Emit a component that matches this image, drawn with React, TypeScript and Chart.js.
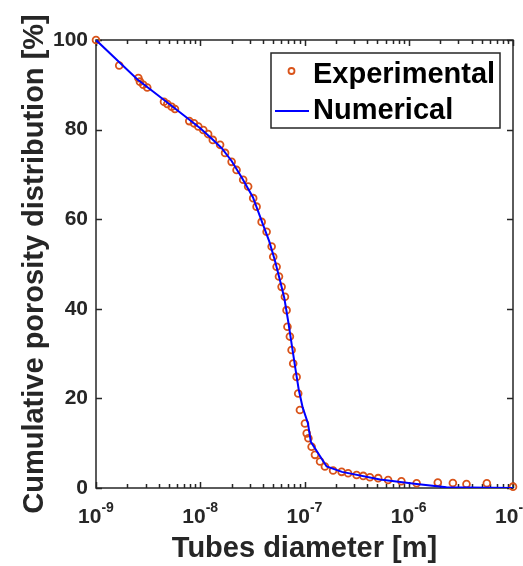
import React, { useEffect, useRef } from 'react';
import { Chart, registerables } from 'chart.js';

Chart.register(...registerables);

// ---- data ----
const expDiameter = [
  1.0e-9, 1.67e-9, 2.55e-9, 2.64e-9, 2.84e-9, 3.1e-9, 4.49e-9, 4.83e-9, 5.32e-9, 5.72e-9,
  7.85e-9, 8.71e-9, 9.58e-9, 1.07e-8, 1.19e-8, 1.32e-8, 1.55e-8, 1.73e-8, 2.0e-8, 2.23e-8,
  2.58e-8, 2.88e-8, 3.22e-8, 3.47e-8, 3.88e-8, 4.33e-8, 4.84e-8, 5.01e-8, 5.4e-8, 5.69e-8,
  6.03e-8, 6.49e-8, 6.73e-8, 6.86e-8, 7.24e-8, 7.52e-8, 7.79e-8, 8.4e-8, 8.7e-8, 9.04e-8,
  1.01e-7, 1.05e-7, 1.09e-7, 1.17e-7, 1.26e-7, 1.41e-7, 1.57e-7, 1.88e-7, 2.27e-7, 2.62e-7,
  3.16e-7, 3.66e-7, 4.24e-7, 5.09e-7, 6.34e-7, 8.5e-7, 1.19e-6, 1.9e-6, 2.65e-6, 3.58e-6,
  5.61e-6, 1.0e-5,
];
const expPorosity = [
  100, 94.3, 91.5, 90.7, 90.0, 89.4, 86.2, 85.7, 85.1, 84.6,
  81.9, 81.4, 80.7, 79.9, 79.0, 77.7, 76.6, 74.8, 72.8, 71.0,
  68.8, 67.3, 64.7, 62.8, 59.4, 57.2, 53.9, 51.6, 49.4, 47.2,
  44.9, 42.7, 39.7, 36.0, 33.8, 30.8, 27.8, 24.8, 21.1, 17.4,
  14.4, 12.2, 11.1, 9.2, 7.4, 5.9, 4.8, 3.9, 3.6, 3.3,
  2.9, 2.7, 2.4, 2.2, 1.8, 1.5, 1.05, 1.2, 1.1, 0.9,
  1.05, 0.3,
];
const numDiameter = [
  1e-9, 2.5e-9, 4.5e-9, 7.5e-9, 1e-8, 1.3e-8, 1.6e-8, 2.0e-8, 2.5e-8, 3.2e-8,
  4.0e-8, 4.6e-8, 5.2e-8, 5.8e-8, 6.4e-8, 7.0e-8, 7.6e-8, 8.2e-8, 8.8e-8, 9.6e-8,
  1.08e-7, 1.15e-7, 1.63e-7, 2.29e-7, 5.3e-7, 1.19e-6, 2.3e-6, 1e-5,
];
const numPorosity = [
  100, 91.2, 86.6, 82.6, 80.3, 77.9, 75.9, 73.0, 69.3, 64.9,
  58.8, 55.0, 50.8, 46.5, 42.4, 37.0, 31.5, 26.5, 22.0, 18.0,
  14.4, 10.3, 4.8, 3.6, 1.9, 0.9, 0.15, 0,
];
const xTickExponents = [-9, -8, -7, -6, -5];
const yTickValues = [0, 20, 40, 60, 80, 100];
const seriesNames = ['Experimental', 'Numerical'];

const FONT = "'Liberation Sans', Arial, Helvetica, sans-serif";
const AXIS = '#262626';
const ORANGE = '#D95319';
const BLUE = '#0000FF';

const framePlugin = {
  id: 'frame',
  beforeDatasetsDraw(chart: any) {
    const { ctx, chartArea: a, scales } = chart;
    const x = scales.x;
    const y = scales.y;
    ctx.save();
    ctx.strokeStyle = AXIS;
    ctx.lineWidth = 1.5;
    ctx.beginPath();
    const minE = xTickExponents[0];
    const maxE = xTickExponents[xTickExponents.length - 1];
    for (let e = minE; e <= maxE; e++) {
      for (let m = 1; m <= 9; m++) {
        const v = m * Math.pow(10, e);
        if (v > Math.pow(10, maxE) * 1.0001) break;
        const px = Math.round(x.getPixelForValue(v)) + 0.5;
        const len = m === 1 ? 6 : 4;
        ctx.moveTo(px, a.bottom);
        ctx.lineTo(px, a.bottom - len);
        ctx.moveTo(px, a.top);
        ctx.lineTo(px, a.top + len);
      }
    }
    for (const v of yTickValues) {
      const py = Math.round(y.getPixelForValue(v)) + 0.5;
      ctx.moveTo(a.left, py);
      ctx.lineTo(a.left + 6, py);
      ctx.moveTo(a.right, py);
      ctx.lineTo(a.right - 6, py);
    }
    ctx.stroke();
    ctx.strokeRect(a.left, a.top, a.right - a.left, a.bottom - a.top);

    // x tick labels with superscript exponents
    ctx.fillStyle = AXIS;
    ctx.textBaseline = 'alphabetic';
    ctx.textAlign = 'left';
    for (const e of xTickExponents) {
      const px = x.getPixelForValue(Math.pow(10, e));
      const base = '10';
      const exp = String(e);
      ctx.font = `bold 21px ${FONT}`;
      const wb = ctx.measureText(base).width;
      ctx.font = `bold 14px ${FONT}`;
      const we = ctx.measureText(exp).width;
      const start = px - (wb + we) / 2;
      ctx.font = `bold 21px ${FONT}`;
      ctx.fillText(base, start, a.bottom + 35);
      ctx.font = `bold 14px ${FONT}`;
      ctx.fillText(exp, start + wb, a.bottom + 23.5);
    }
    ctx.restore();
  },
  afterDraw(chart: any) {
    const { ctx } = chart;
    ctx.save();
    // legend box
    const bx = 271, by = 53, bw = 229, bh = 75;
    ctx.fillStyle = '#ffffff';
    ctx.fillRect(bx, by, bw, bh);
    ctx.strokeStyle = AXIS;
    ctx.lineWidth = 1.5;
    ctx.strokeRect(bx, by, bw, bh);
    // experimental marker
    ctx.strokeStyle = ORANGE;
    ctx.lineWidth = 1.8;
    ctx.beginPath();
    ctx.arc(291.5, 71, 3, 0, Math.PI * 2);
    ctx.stroke();
    // numerical line
    ctx.strokeStyle = BLUE;
    ctx.lineWidth = 2;
    ctx.beginPath();
    ctx.moveTo(275, 111);
    ctx.lineTo(309, 111);
    ctx.stroke();
    ctx.fillStyle = '#000000';
    ctx.font = `bold 29px ${FONT}`;
    ctx.textBaseline = 'middle';
    ctx.textAlign = 'left';
    ctx.fillText(seriesNames[0], 313, 75);
    ctx.fillText(seriesNames[1], 313, 110.5);
    ctx.restore();
  },
};

export default function App() {
  const ref = useRef<HTMLCanvasElement>(null);
  useEffect(() => {
    if (!ref.current) return;
    const chart = new Chart(ref.current, {
      type: 'scatter',
      data: {
        datasets: [
          {
            label: seriesNames[1],
            data: numDiameter.map((d, i) => ({ x: d, y: numPorosity[i] })),
            showLine: true,
            borderColor: BLUE,
            backgroundColor: BLUE,
            borderWidth: 2,
            pointRadius: 0,
            tension: 0,
            order: 0,
          },
          {
            label: seriesNames[0],
            data: expDiameter.map((d, i) => ({ x: d, y: expPorosity[i] })),
            showLine: false,
            pointStyle: 'circle',
            pointRadius: 3.4,
            pointBorderWidth: 1.8,
            pointBorderColor: ORANGE,
            pointBackgroundColor: 'rgba(0,0,0,0)',
            borderColor: ORANGE,
            backgroundColor: 'rgba(0,0,0,0)',
            clip: false,
            order: 1,
          },
        ],
      },
      options: {
        responsive: false,
        devicePixelRatio: 1,
        animation: false,
        layout: { padding: { top: 40, right: 10, left: 0, bottom: 0 } },
        plugins: { legend: { display: false }, tooltip: { enabled: false } },
        scales: {
          x: {
            type: 'logarithmic',
            position: 'bottom',
            min: 1e-9,
            max: 1e-5,
            grid: { display: false, drawTicks: false },
            border: { display: false },
            ticks: { display: false },
            afterFit: (s: any) => { s.height = 78; },
            title: {
              display: true,
              text: 'Tubes diameter [m]',
              color: AXIS,
              font: { family: FONT, size: 29, weight: 'bold' },
              padding: { top: 0, bottom: 0 },
            },
          },
          y: {
            type: 'linear',
            position: 'left',
            min: 0,
            max: 100,
            grid: { display: false, drawTicks: false },
            border: { display: false },
            afterBuildTicks: (s: any) => { s.ticks = yTickValues.map((v) => ({ value: v })); },
            ticks: {
              color: AXIS,
              padding: 8,
              font: { family: FONT, size: 21, weight: 'bold' },
            },
            afterFit: (s: any) => { s.width = 96; },
            title: {
              display: true,
              text: 'Cumulative porosity distribution [%]',
              color: AXIS,
              font: { family: FONT, size: 29, weight: 'bold' },
              padding: { top: 18, bottom: 0 },
            },
          },
        },
      },
      plugins: [framePlugin],
    } as any);
    return () => chart.destroy();
  }, []);
  return (
    <div style={{ position: 'fixed', left: 0, top: 0, width: 523, height: 566, background: '#fff' }}>
      <canvas ref={ref} width={523} height={566} style={{ display: 'block' }} />
    </div>
  );
}
